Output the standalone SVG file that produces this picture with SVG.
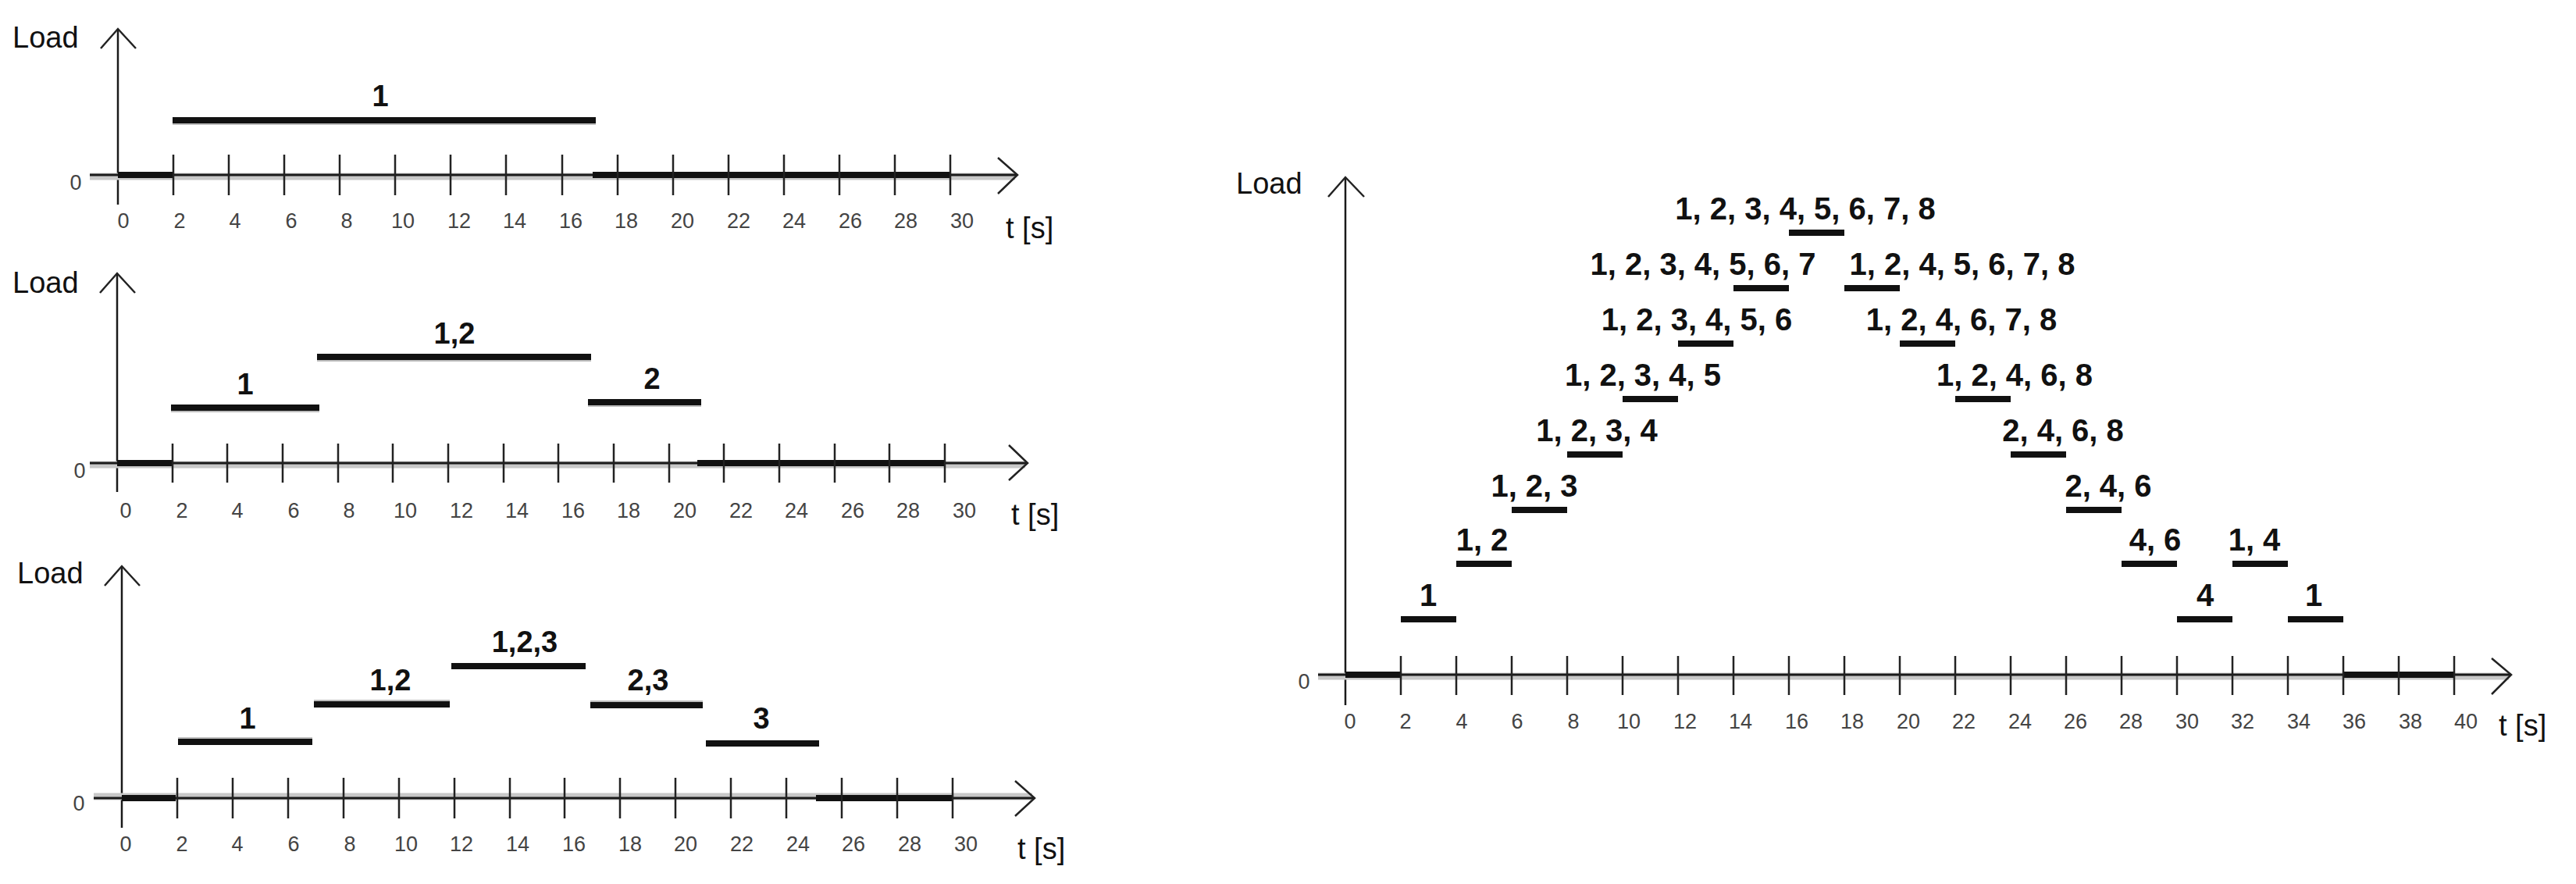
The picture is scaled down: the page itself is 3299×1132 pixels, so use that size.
<svg xmlns="http://www.w3.org/2000/svg" width="3299" height="1132" viewBox="0 0 3299 1132">
<style>
text{font-family:"Liberation Sans",Arial,sans-serif;fill:#111}
.load{font-size:38px}
.tl{font-size:27px;fill:#444;text-anchor:middle}
.zero{font-size:27px;fill:#444;text-anchor:middle}
.ts{font-size:38px}
.lbl{font-size:38px;font-weight:bold;text-anchor:middle}
.rl{font-size:40px;font-weight:bold;text-anchor:middle}
.halo{stroke:#c8c8c8;stroke-width:9;fill:none}
.ax{stroke:#1a1a1a;stroke-width:3;fill:none}
.yax{stroke:#1a1a1a;stroke-width:2.5;fill:none}
.tick{stroke:#222;stroke-width:2.5;fill:none}
.arr{stroke:#222;stroke-width:2.5;fill:none}
.thick{stroke:#111;stroke-width:8;fill:none}
.bar{stroke:#111;stroke-width:8;fill:none}
.barsh{stroke:#bdbdbd;stroke-width:4;fill:none}
</style>
<rect width="3299" height="1132" fill="#fff"/>

<g id="panel1">
  <text class="load" x="16" y="61">Load</text>
  <path class="yax" d="M151 37V262"/>
  <polyline class="arr" points="129,62 151,37 174,62"/>
  <path class="halo" d="M115 226H1300"/>
  <path class="ax" d="M115 224H1303"/>
  <polyline class="arr" points="1278,202 1303,224 1278,248"/>
  <path class="thick" d="M151 224H222M759 224H1217"/>
  <path class="tick" d="M222 198V250M293 198V250M364 198V250M435 198V250M506 198V250M577 198V250M648 198V250M720 198V250M791 198V250M862 198V250M933 198V250M1004 198V250M1075 198V250M1146 198V250M1217 198V250"/>
  <text class="zero" x="97" y="243">0</text>
  <g class="tl-g">
    <text class="tl" x="158" y="292">0</text><text class="tl" x="230" y="292">2</text><text class="tl" x="301" y="292">4</text><text class="tl" x="373" y="292">6</text><text class="tl" x="444" y="292">8</text><text class="tl" x="516" y="292">10</text><text class="tl" x="588" y="292">12</text><text class="tl" x="659" y="292">14</text><text class="tl" x="731" y="292">16</text><text class="tl" x="802" y="292">18</text><text class="tl" x="874" y="292">20</text><text class="tl" x="946" y="292">22</text><text class="tl" x="1017" y="292">24</text><text class="tl" x="1089" y="292">26</text><text class="tl" x="1160" y="292">28</text><text class="tl" x="1232" y="292">30</text>
  </g>
  <text class="ts" x="1288" y="305">t [s]</text>
  <g id="p1-bars">
    <path class="barsh" d="M221 158H763"/>
    <path class="bar" d="M221 154H763"/>
    <text class="lbl" x="487" y="136">1</text>
  </g>
</g>

<g id="panel2">
  <text class="load" x="16" y="375">Load</text>
  <path class="yax" d="M150 350V630"/>
  <polyline class="arr" points="128,375 150,350 173,375"/>
  <path class="halo" d="M115 595H1313"/>
  <path class="ax" d="M115 593H1316"/>
  <polyline class="arr" points="1292,570 1316,593 1292,615"/>
  <path class="thick" d="M150 593H221M893 593H1210"/>
  <path class="tick" d="M221 568V618M291 568V618M362 568V618M433 568V618M503 568V618M574 568V618M645 568V618M715 568V618M786 568V618M857 568V618M927 568V618M998 568V618M1069 568V618M1139 568V618M1210 568V618"/>
  <text class="zero" x="102" y="612">0</text>
  <g>
    <text class="tl" x="161" y="663">0</text><text class="tl" x="233" y="663">2</text><text class="tl" x="304" y="663">4</text><text class="tl" x="376" y="663">6</text><text class="tl" x="447" y="663">8</text><text class="tl" x="519" y="663">10</text><text class="tl" x="591" y="663">12</text><text class="tl" x="662" y="663">14</text><text class="tl" x="734" y="663">16</text><text class="tl" x="805" y="663">18</text><text class="tl" x="877" y="663">20</text><text class="tl" x="949" y="663">22</text><text class="tl" x="1020" y="663">24</text><text class="tl" x="1092" y="663">26</text><text class="tl" x="1163" y="663">28</text><text class="tl" x="1235" y="663">30</text>
  </g>
  <text class="ts" x="1295" y="672">t [s]</text>
  <g id="p2-bars">
    <path class="barsh" d="M219 526H409M406 461H757M753 519H898"/>
    <path class="bar" d="M219 522H409M406 457H757M753 515H898"/>
    <text class="lbl" x="314" y="505">1</text>
    <text class="lbl" x="582" y="440">1,2</text>
    <text class="lbl" x="835" y="498">2</text>
  </g>
</g>

<g id="panel3">
  <text class="load" x="22" y="747">Load</text>
  <path class="yax" d="M156 725V1060"/>
  <polyline class="arr" points="134,750 156,725 179,750"/>
  <path class="halo" d="M120 1020H1322"/>
  <path class="ax" d="M120 1022H1325"/>
  <polyline class="arr" points="1300,1000 1325,1022 1300,1045"/>
  <path class="thick" d="M156 1022H225M1045 1022H1220"/>
  <path class="tick" d="M227 996V1048M298 996V1048M369 996V1048M440 996V1048M511 996V1048M582 996V1048M653 996V1048M723 996V1048M794 996V1048M865 996V1048M936 996V1048M1007 996V1048M1078 996V1048M1149 996V1048M1220 996V1048"/>
  <text class="zero" x="101" y="1038">0</text>
  <g>
    <text class="tl" x="161" y="1090">0</text><text class="tl" x="233" y="1090">2</text><text class="tl" x="304" y="1090">4</text><text class="tl" x="376" y="1090">6</text><text class="tl" x="448" y="1090">8</text><text class="tl" x="520" y="1090">10</text><text class="tl" x="591" y="1090">12</text><text class="tl" x="663" y="1090">14</text><text class="tl" x="735" y="1090">16</text><text class="tl" x="807" y="1090">18</text><text class="tl" x="878" y="1090">20</text><text class="tl" x="950" y="1090">22</text><text class="tl" x="1022" y="1090">24</text><text class="tl" x="1093" y="1090">26</text><text class="tl" x="1165" y="1090">28</text><text class="tl" x="1237" y="1090">30</text>
  </g>
  <text class="ts" x="1303" y="1100">t [s]</text>
  <g id="p3-bars">
    <path class="barsh" d="M228 946H400M402 898H576M756 899H900"/>
    <path class="bar" d="M228 950H400M402 902H576M578 853H750M756 903H900M904 952H1049"/>
    <text class="lbl" x="317" y="933">1</text>
    <text class="lbl" x="500" y="884">1,2</text>
    <text class="lbl" x="672" y="835">1,2,3</text>
    <text class="lbl" x="830" y="884">2,3</text>
    <text class="lbl" x="975" y="933">3</text>
  </g>
</g>

<g id="panel4">
  <text class="load" x="1583" y="248">Load</text>
  <path class="yax" d="M1723 227V903"/>
  <polyline class="arr" points="1701,252 1723,227 1747,252"/>
  <path class="halo" d="M1688 866H3213"/>
  <path class="ax" d="M1688 864H3216"/>
  <polyline class="arr" points="3191,843 3216,864 3191,889"/>
  <path class="thick" d="M1723 864H1794M3001 864H3143"/>
  <path class="tick" d="M1794 840V890M1865 840V890M1936 840V890M2007 840V890M2078 840V890M2149 840V890M2220 840V890M2291 840V890M2362 840V890M2433 840V890M2504 840V890M2575 840V890M2646 840V890M2717 840V890M2788 840V890M2859 840V890M2930 840V890M3001 840V890M3072 840V890M3143 840V890"/>
  <text class="zero" x="1670" y="882">0</text>
  <g>
    <text class="tl" x="1729" y="933">0</text><text class="tl" x="1800" y="933">2</text><text class="tl" x="1872" y="933">4</text><text class="tl" x="1943" y="933">6</text><text class="tl" x="2015" y="933">8</text><text class="tl" x="2086" y="933">10</text><text class="tl" x="2158" y="933">12</text><text class="tl" x="2229" y="933">14</text><text class="tl" x="2301" y="933">16</text><text class="tl" x="2372" y="933">18</text><text class="tl" x="2444" y="933">20</text><text class="tl" x="2515" y="933">22</text><text class="tl" x="2587" y="933">24</text><text class="tl" x="2658" y="933">26</text><text class="tl" x="2729" y="933">28</text><text class="tl" x="2801" y="933">30</text><text class="tl" x="2872" y="933">32</text><text class="tl" x="2944" y="933">34</text><text class="tl" x="3015" y="933">36</text><text class="tl" x="3087" y="933">38</text><text class="tl" x="3158" y="933">40</text>
  </g>
  <text class="ts" x="3200" y="942">t [s]</text>
  <g id="p4-bars">
    <path class="bar" d="M1794 793H1865M1865 722H1936M1936 653H2007M2007 582H2078M2078 511H2149M2149 440H2220M2220 369H2291M2291 298H2362M2362 369H2433M2433 440H2504M2504 511H2575M2575 582H2646M2646 653H2717M2717 722H2788M2788 793H2859M2859 722H2930M2930 793H3001"/>
    <text class="rl" x="1829" y="776">1</text>
    <text class="rl" x="1898" y="705">1, 2</text>
    <text class="rl" x="1965" y="636">1, 2, 3</text>
    <text class="rl" x="2045" y="565">1, 2, 3, 4</text>
    <text class="rl" x="2104" y="494">1, 2, 3, 4, 5</text>
    <text class="rl" x="2173" y="423">1, 2, 3, 4, 5, 6</text>
    <text class="rl" x="2181" y="352">1, 2, 3, 4, 5, 6, 7</text>
    <text class="rl" x="2312" y="281">1, 2, 3, 4, 5, 6, 7, 8</text>
    <text class="rl" x="2513" y="352">1, 2, 4, 5, 6, 7, 8</text>
    <text class="rl" x="2512" y="423">1, 2, 4, 6, 7, 8</text>
    <text class="rl" x="2580" y="494">1, 2, 4, 6, 8</text>
    <text class="rl" x="2642" y="565">2, 4, 6, 8</text>
    <text class="rl" x="2700" y="636">2, 4, 6</text>
    <text class="rl" x="2760" y="705">4, 6</text>
    <text class="rl" x="2824" y="776">4</text>
    <text class="rl" x="2887" y="705">1, 4</text>
    <text class="rl" x="2963" y="776">1</text>
  </g>
</g>
</svg>
